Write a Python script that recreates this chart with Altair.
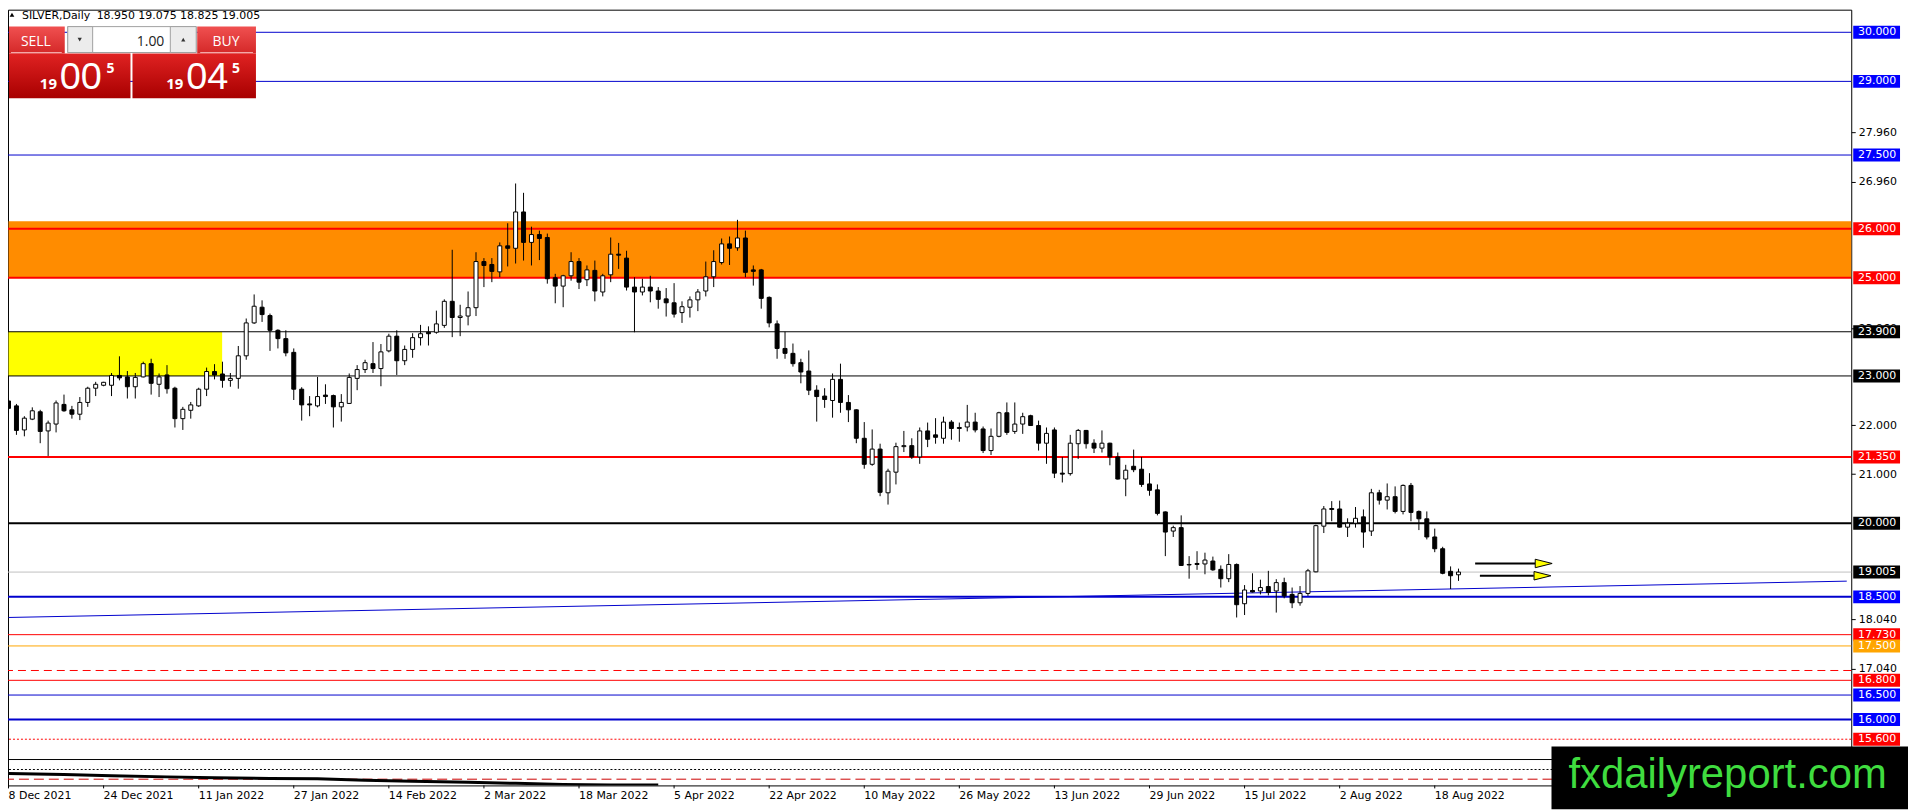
import altair as alt
import pandas as pd

# ---------------- data ----------------
opens = [22.49, 22.39, 21.90, 22.12, 22.27, 21.88, 22.02, 22.42, 22.31, 22.22,
         22.46, 22.75, 22.81, 22.81, 23.01, 22.98, 22.78, 22.98, 23.25, 22.83,
         23.02, 22.75, 22.13, 22.30, 22.39, 22.73, 23.09, 23.04, 22.91, 22.95,
         23.41, 24.08, 24.40, 24.23, 23.93, 23.76, 23.48, 22.73, 22.43, 22.39,
         22.61, 22.60, 22.37, 22.44, 22.95, 23.13, 23.25, 23.15, 23.51, 23.81,
         23.31, 23.54, 23.78, 23.89, 23.89, 24.03, 24.52, 24.19, 24.22, 24.39,
         25.33, 25.27, 25.12, 25.65, 25.60, 26.34, 25.72, 25.88, 25.82, 25.00,
         24.83, 25.04, 25.33, 24.96, 25.15, 24.71, 25.06, 25.48, 25.40, 24.81,
         24.71, 24.81, 24.73, 24.57, 24.49, 24.29, 24.40, 24.55, 24.73, 25.02,
         25.31, 25.69, 25.61, 25.81, 25.16, 25.16, 24.60, 24.06, 23.56, 23.46,
         23.27, 23.10, 22.71, 22.59, 22.50, 22.93, 22.46, 22.31, 21.73, 21.20,
         21.51, 20.62, 21.04, 21.56, 21.58, 21.35, 21.88, 21.80, 21.73, 22.06,
         21.95, 21.96, 22.06, 21.92, 21.48, 21.77, 22.25, 21.87, 22.02, 22.19,
         21.99, 21.63, 21.90, 21.02, 21.01, 21.62, 21.89, 21.63, 21.53, 21.63,
         21.35, 20.90, 21.16, 21.10, 20.80, 20.68, 20.23, 19.84, 19.91, 19.16,
         19.18, 19.17, 19.23, 19.06, 18.87, 19.16, 18.36, 18.63, 18.62, 18.71,
         18.62, 18.79, 18.55, 18.38, 18.57, 19.01, 19.94, 20.30, 20.29, 19.92,
         20.00, 20.13, 19.84, 20.62, 20.47, 20.54, 20.24, 20.77, 20.24, 20.09,
         19.72, 19.48, 19.02, 18.950]
highs = [22.54, 22.43, 22.18, 22.36, 22.31, 22.09, 22.50, 22.62, 22.39, 22.57,
         22.78, 22.88, 22.88, 23.06, 23.40, 23.10, 23.06, 23.29, 23.35, 23.05,
         23.22, 22.78, 22.37, 22.47, 22.76, 23.17, 23.24, 23.29, 23.06, 23.61,
         24.17, 24.66, 24.54, 24.27, 23.95, 23.93, 23.56, 22.77, 22.59, 22.98,
         22.83, 22.62, 22.63, 23.05, 23.22, 23.33, 23.69, 23.65, 23.86, 23.93,
         23.62, 23.87, 24.04, 24.01, 24.33, 24.56, 25.57, 24.45, 24.72, 25.52,
         25.40, 25.40, 25.72, 26.11, 26.92, 26.73, 26.04, 25.96, 25.90, 25.08,
         25.06, 25.52, 25.40, 25.25, 25.35, 25.08, 25.82, 25.71, 25.55, 25.01,
         24.98, 25.04, 24.81, 24.79, 24.89, 24.52, 24.62, 24.77, 25.33, 25.56,
         25.80, 25.84, 26.18, 25.96, 25.25, 25.18, 24.62, 24.13, 23.90, 23.66,
         23.35, 23.52, 22.81, 22.75, 23.05, 23.25, 22.61, 22.32, 22.06, 21.91,
         21.62, 21.11, 21.64, 21.88, 21.73, 21.95, 22.05, 22.14, 22.17, 22.10,
         22.05, 22.41, 22.25, 21.97, 21.93, 22.27, 22.46, 22.46, 22.25, 22.21,
         22.09, 21.95, 21.95, 21.35, 21.80, 21.92, 21.90, 21.71, 21.89, 21.64,
         21.44, 21.19, 21.50, 21.35, 21.02, 20.79, 20.24, 19.95, 20.16, 19.33,
         19.43, 19.40, 19.32, 19.14, 19.37, 19.18, 18.74, 18.98, 18.85, 19.03,
         18.86, 18.89, 18.69, 18.72, 19.07, 19.97, 20.35, 20.45, 20.46, 20.10,
         20.33, 20.28, 20.70, 20.68, 20.81, 20.75, 20.79, 20.82, 20.26, 20.24,
         19.89, 19.52, 19.12, 19.075]
lows = [22.24, 21.80, 21.77, 22.10, 21.63, 21.37, 21.85, 22.27, 22.13, 22.10,
        22.37, 22.59, 22.79, 22.59, 22.91, 22.54, 22.54, 22.97, 22.62, 22.57,
        22.64, 21.95, 21.90, 22.13, 22.37, 22.59, 22.93, 22.76, 22.78, 22.74,
        23.33, 24.06, 24.10, 23.51, 23.56, 23.40, 22.51, 22.09, 22.18, 22.36,
        22.43, 21.95, 22.07, 22.43, 22.71, 23.06, 23.06, 22.79, 23.48, 23.02,
        23.22, 23.37, 23.62, 23.62, 23.86, 23.98, 23.79, 23.81, 24.03, 24.22,
        24.81, 24.91, 25.01, 25.23, 25.29, 25.35, 25.25, 25.36, 24.88, 24.48,
        24.40, 24.94, 24.77, 24.83, 24.52, 24.62, 24.91, 25.18, 24.74, 23.89,
        24.64, 24.50, 24.37, 24.21, 24.19, 24.08, 24.19, 24.32, 24.62, 24.81,
        25.27, 25.26, 25.55, 25.01, 24.84, 24.37, 23.99, 23.35, 23.35, 23.19,
        22.85, 22.61, 22.07, 22.35, 22.15, 22.25, 22.06, 21.63, 21.11, 21.17,
        20.55, 20.38, 20.79, 21.45, 21.31, 21.21, 21.55, 21.62, 21.62, 21.70,
        21.66, 21.87, 21.85, 21.43, 21.39, 21.75, 21.80, 21.82, 21.82, 21.98,
        21.48, 21.21, 20.92, 20.83, 20.97, 21.31, 21.52, 21.43, 21.44, 21.18,
        20.89, 20.55, 21.04, 20.74, 20.56, 20.16, 19.33, 19.72, 19.13, 18.87,
        19.05, 18.96, 19.03, 18.69, 18.80, 18.08, 18.13, 18.59, 18.55, 18.53,
        18.18, 18.47, 18.27, 18.32, 18.52, 19.00, 19.80, 20.04, 19.91, 19.72,
        19.91, 19.50, 19.74, 20.38, 20.28, 20.20, 20.18, 20.04, 19.86, 19.67,
        19.41, 18.96, 18.66, 18.825]
closes = [22.34, 21.89, 22.14, 22.29, 21.87, 22.04, 22.45, 22.29, 22.22, 22.46,
          22.75, 22.83, 22.87, 23.01, 22.96, 22.78, 22.97, 23.25, 22.85, 22.98,
          22.74, 22.13, 22.32, 22.41, 22.73, 23.09, 23.02, 22.91, 22.95, 23.41,
          24.08, 24.42, 24.25, 23.93, 23.76, 23.47, 22.73, 22.41, 22.41, 22.58,
          22.58, 22.37, 22.46, 22.97, 23.13, 23.27, 23.15, 23.49, 23.81, 23.31,
          23.54, 23.78, 23.86, 23.86, 24.06, 24.52, 24.19, 24.22, 24.39, 25.33,
          25.25, 25.13, 25.65, 25.60, 26.34, 25.72, 25.88, 25.80, 24.98, 24.83,
          25.04, 25.33, 24.91, 25.16, 24.73, 25.04, 25.48, 25.46, 24.81, 24.71,
          24.81, 24.73, 24.56, 24.49, 24.26, 24.41, 24.55, 24.71, 25.02, 25.33,
          25.69, 25.60, 25.81, 25.11, 25.13, 24.58, 24.08, 23.56, 23.46, 23.25,
          23.08, 22.71, 22.58, 22.52, 22.93, 22.46, 22.31, 21.73, 21.20, 21.51,
          20.63, 21.06, 21.56, 21.58, 21.35, 21.88, 21.71, 21.75, 22.06, 21.93,
          21.93, 22.06, 21.90, 21.48, 21.77, 22.25, 21.85, 22.02, 22.17, 21.99,
          21.63, 21.83, 21.02, 21.00, 21.63, 21.89, 21.62, 21.53, 21.63, 21.35,
          20.90, 21.08, 21.09, 20.79, 20.67, 20.20, 19.82, 19.91, 19.14, 19.15,
          19.16, 19.25, 19.05, 18.87, 19.16, 18.34, 18.64, 18.60, 18.69, 18.59,
          18.79, 18.52, 18.38, 18.57, 19.03, 19.95, 20.29, 20.28, 19.92, 20.00,
          20.10, 19.82, 20.62, 20.47, 20.54, 20.24, 20.77, 20.22, 20.09, 19.72,
          19.48, 18.98, 18.93, 19.005]

tick_bars = [0, 12, 24, 36, 48, 60, 72, 84, 96, 108, 120, 132, 144, 156, 168, 180]
tick_labels = ["8 Dec 2021", "24 Dec 2021", "11 Jan 2022", "27 Jan 2022", "14 Feb 2022",
               "2 Mar 2022", "18 Mar 2022", "5 Apr 2022", "22 Apr 2022", "10 May 2022",
               "26 May 2022", "13 Jun 2022", "29 Jun 2022", "15 Jul 2022", "2 Aug 2022",
               "18 Aug 2022"]

axis_values = [27.96, 26.96, 23.96, 22.0, 21.0, 18.04, 17.04]

level_prices = [30.0, 29.0, 27.5, 26.0, 25.0, 23.9, 23.0, 21.35, 20.0, 19.005,
                18.5, 17.73, 17.5, 17.0, 16.8, 16.5, 16.0, 15.6]
level_colors = ["#0000cd", "#0000cd", "#0000cd", "#ff0000", "#ff0000", "#000000",
                "#000000", "#ff0000", "#000000", "#c0c0c0", "#0000cd", "#ff0000",
                "#ffa500", "#ff0000", "#ff0000", "#0000cd", "#0000cd", "#ff0000"]
level_widths = [1, 1, 1, 2, 2, 1, 1, 2, 2, 1, 2, 1, 1, 1, 1, 1, 2, 1]
level_styles = ["solid"] * 13 + ["dashed", "solid", "solid", "solid", "dotted"]

tag_prices = [30.0, 29.0, 27.5, 26.0, 25.0, 23.9, 23.0, 21.35, 20.0, 19.005,
              18.5, 17.73, 17.5, 16.8, 16.5, 16.0, 15.6]
tag_colors = ["#0000ff", "#0000ff", "#0000ff", "#ff0000", "#ff0000", "#000000",
              "#000000", "#ff0000", "#000000", "#000000", "#0000ff", "#ff0000",
              "#ffa500", "#ff0000", "#0000ff", "#0000ff", "#ff0000"]
tag_labels = ["30.000", "29.000", "27.500", "26.000", "25.000", "23.900", "23.000",
              "21.350", "20.000", "19.005", "18.500", "17.730", "17.500", "16.800",
              "16.500", "16.000", "15.600"]

zone_start = [0, 0]
zone_end = [240, 26.96]
zone_low = [25.0, 23.0]
zone_high = [26.15, 23.9]
zone_colors = ["#ff8c00", "#ffff00"]

trend_bars = [0, 232]
trend_prices = [18.08, 18.82]

arrow_start = [185.1, 185.7]
arrow_base = [192.7, 192.5]
arrow_head = [193.75, 193.6]
arrow_price = [19.18, 18.93]

ind_bars = [0, 7, 13, 20, 26, 33, 39, 45, 51, 58, 64, 70, 76, 82]
ind_values = [0.46, 0.42, 0.37, 0.33, 0.30, 0.27, 0.26, 0.20, 0.16, 0.12, 0.08, 0.04, 0.02, 0.02]
sub_levels = [1.0, 0.615, 0.24]
sub_colors = ["#000000", "#000000", "#cc0000"]
sub_styles = ["solid", "dotted", "dashed"]

# ---------------- layout ----------------
W, H = 1851, 779
xs = alt.Scale(domain=[0.5625, 231.9375], nice=False, zero=False)
ys = alt.Scale(domain=[14.6592, 30.4604], nice=False, zero=False)
ss = alt.Scale(domain=[0, 29.96], nice=False, zero=False)
yaxis = alt.Axis(orient="right", values=axis_values, format=".3f", tickSize=4,
                 tickColor="black", labelColor="black", labelFont="DejaVu Sans",
                 labelFontSize=11, labelPadding=3, domain=False, grid=False, title=None)


def X(f):
    return alt.X(f, type="quantitative", scale=xs, axis=None)


def Y(f):
    return alt.Y(f, type="quantitative", scale=ys, axis=yaxis)


def SY(f):
    return alt.Y(f, type="quantitative", scale=ss, axis=None)


one = alt.Data(values=[{"a": 1}])

cdf = pd.DataFrame({"idx": list(range(len(opens))), "open": opens, "high": highs,
                    "low": lows, "close": closes})
ldf = pd.DataFrame({"price": level_prices, "color": level_colors,
                    "width": level_widths, "style": level_styles})
tdf = pd.DataFrame({"price": tag_prices, "color": tag_colors, "label": tag_labels})
zdf = pd.DataFrame({"start": zone_start, "end": zone_end, "low": zone_low,
                    "high": zone_high, "color": zone_colors})
trdf = pd.DataFrame({"idx": trend_bars, "price": trend_prices})
adf = pd.DataFrame({"start": arrow_start, "base": arrow_base, "head": arrow_head,
                    "price": arrow_price})
xdf = pd.DataFrame({"idx": tick_bars, "label": tick_labels})
idf = pd.DataFrame({"idx": ind_bars, "v": ind_values})
sdf = pd.DataFrame({"v": sub_levels, "color": sub_colors, "style": sub_styles})

zones = alt.Chart(zdf).mark_rect(clip=True).encode(
    x=X("start"), x2=alt.X2("end"), y=Y("low"), y2=alt.Y2("high"),
    color=alt.Color("color:N", scale=None))

level_layers = []
for style, dash in [("solid", None), ("dashed", [8, 5]), ("dotted", [2, 2])]:
    if dash is None:
        mk = alt.Chart(ldf).mark_rule()
    else:
        mk = alt.Chart(ldf).mark_rule(strokeDash=dash)
    level_layers.append(
        mk.transform_filter(alt.datum.style == style).encode(
            y=Y("price"), color=alt.Color("color:N", scale=None),
            strokeWidth=alt.StrokeWidth("width:Q", scale=None)))

trend = alt.Chart(trdf).mark_line(clip=True, color="#0000cd", strokeWidth=1).encode(
    x=X("idx"), y=Y("price"))

wicks = alt.Chart(cdf).mark_rule(color="black", strokeWidth=1).encode(
    x=X("idx"), y=Y("low"), y2=alt.Y2("high"))
bodies = alt.Chart(cdf).mark_bar(width=4, stroke="black", strokeWidth=1).encode(
    x=X("idx"), y=Y("open"), y2=alt.Y2("close"),
    fill=alt.condition("datum.close >= datum.open", alt.value("white"), alt.value("black")))

arrow_lines = alt.Chart(adf).mark_rule(color="black", strokeWidth=2).encode(
    x=X("start"), x2=alt.X2("base"), y=Y("price"))
arrow_heads = alt.Chart(adf).mark_point(
    shape="M-1,-0.5L1,0L-1,0.5Z", size=289, filled=True, fill="#ffff00",
    stroke="black", strokeWidth=1, opacity=1).encode(x=X("head"), y=Y("price"))

tag_rects = alt.Chart(tdf).transform_calculate(
    top="datum.price + 0.132", bot="datum.price - 0.132").mark_rect().encode(
    x=alt.value(1853), x2=alt.value(1900), y=Y("top"), y2=alt.Y2("bot"),
    color=alt.Color("color:N", scale=None))
tag_text = alt.Chart(tdf).mark_text(color="white", font="DejaVu Sans", fontSize=11,
                                    align="center", baseline="middle").encode(
    x=alt.value(1877), y=Y("price"), text="label:N")

xlabels = alt.Chart(xdf).mark_text(align="left", baseline="alphabetic", font="DejaVu Sans",
                                   fontSize=11, color="black").encode(
    x=X("idx"), y=alt.value(793), text="label:N")
xticks = alt.Chart(xdf).mark_rule(color="black").encode(
    x=X("idx"), y=alt.value(779), y2=alt.value(782))

main = alt.layer(zones, *level_layers, trend, wicks, bodies, arrow_lines, arrow_heads,
                 tag_rects, tag_text, xlabels, xticks)

sub_layers = []
for style, dash in [("solid", None), ("dashed", [10, 5]), ("dotted", [2, 2])]:
    if dash is None:
        mk = alt.Chart(sdf).mark_rule(strokeWidth=1)
    else:
        mk = alt.Chart(sdf).mark_rule(strokeWidth=1, strokeDash=dash)
    sub_layers.append(mk.transform_filter(alt.datum.style == style).encode(
        y=SY("v"), color=alt.Color("color:N", scale=None)))
ind = alt.Chart(idf).mark_line(color="black", strokeWidth=3, clip=True).encode(
    x=X("idx"), y=SY("v"))
sub = alt.layer(*sub_layers, ind)


# ---------------- decorations (trade panel, header, watermark) ----------------
def box(x, x2, y, y2, fill, **kw):
    return alt.Chart(one).mark_rect(fill=fill, **kw).encode(
        x=alt.value(x), x2=alt.value(x2), y=alt.value(y), y2=alt.value(y2))


def label(text, x, y, size, color="white", align="left", font="Open Sans",
          weight="normal", baseline="alphabetic"):
    return alt.Chart(one).mark_text(text=text, fontSize=size, color=color, align=align,
                                    font=font, fontWeight=weight,
                                    baseline=baseline).encode(
        x=alt.value(x), y=alt.value(y))


def tri(shape, x, y, size, color):
    return alt.Chart(one).mark_point(shape=shape, size=size, filled=True, fill=color,
                                     opacity=1, strokeWidth=0).encode(
        x=alt.value(x), y=alt.value(y))


btn = alt.LinearGradient(gradient="linear", x1=0, x2=0, y1=0, y2=1,
                         stops=[alt.GradientStop(color="#f05050", offset=0),
                                alt.GradientStop(color="#d42828", offset=1)])
pbox = alt.LinearGradient(gradient="linear", x1=0, x2=0, y1=0, y2=1,
                          stops=[alt.GradientStop(color="#e02222", offset=0),
                                 alt.GradientStop(color="#a80000", offset=1)])

deco = alt.layer(
    tri("triangle-up", 4, 5, 22, "black"),
    label("SILVER,Daily", 14, 9, 11, "black", font="DejaVu Sans"),
    label("18.950 19.075 18.825 19.005", 89, 9, 11, "black", font="DejaVu Sans"),
    box(1, 57, 17, 44, btn),
    box(3, 54, 42.5, 43.5, "#f4a8a8"),
    box(190, 249, 17, 44, btn),
    box(193, 246, 42.5, 43.5, "#f4a8a8"),
    box(60, 189, 17, 43, "white", stroke="#a0a0a0", strokeWidth=1),
    box(60, 85, 17, 43, "#ececec", stroke="#a0a0a0", strokeWidth=1),
    box(163, 189, 17, 43, "#ececec", stroke="#a0a0a0", strokeWidth=1),
    tri("triangle-down", 72, 30, 18, "#333333"),
    tri("triangle-up", 176, 30, 18, "#333333"),
    label("1.00", 157, 36, 14, "#222222", align="right"),
    label("SELL", 28, 36, 14, align="center"),
    label("BUY", 219, 36, 14, align="center"),
    box(1, 123, 44, 89, pbox),
    box(125, 249, 44, 89, pbox),
    label("19", 32, 80, 15, weight="bold"),
    label("00", 52, 80, 38, font="Liberation Sans"),
    label("5", 99, 64, 14, weight="bold"),
    label("19", 159, 80, 15, weight="bold"),
    label("04", 179, 80, 38, font="Liberation Sans"),
    label("5", 225, 64, 14, weight="bold"),
    box(1550, 1908, 740, 803, "black"),
    label("fxdailyreport.com", 1567, 782, 42, "#3fdc3f", font="Liberation Sans"),
)

chart = alt.layer(main, sub, deco).resolve_scale(y="independent").properties(
    width=W, height=H,
    padding={"left": 0, "top": 0, "right": 57, "bottom": 24},
    autosize=alt.AutoSizeParams(type="none"),
    background="white",
).configure_view(stroke="black", strokeWidth=1)

chart.save("out.html", embed_options={"renderer": "svg", "actions": False})
